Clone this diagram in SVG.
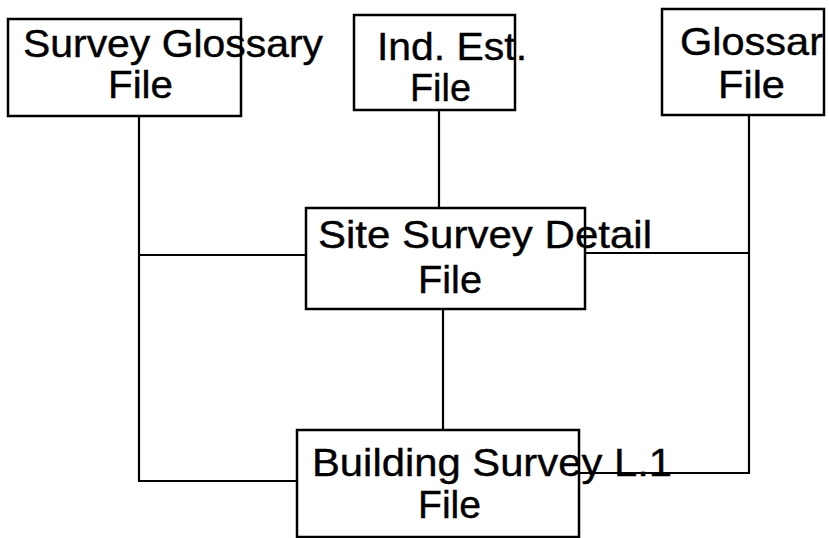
<svg xmlns="http://www.w3.org/2000/svg" width="829" height="538" viewBox="0 0 829 538">
<style>
.box{fill:none;stroke:#000;stroke-width:2.5}
.ln{fill:none;stroke:#000;stroke-width:2.2}
text{font-family:"Liberation Sans",Arial,sans-serif;font-size:39px;fill:#000;stroke:#000;stroke-width:0.4}
</style>
<rect width="829" height="538" fill="#fff"/>
<g id="connectors">
<polyline class="ln" points="139,116 139,481 297,481"/>
<line class="ln" x1="139" y1="255" x2="306" y2="255"/>
<line class="ln" x1="439" y1="110" x2="439" y2="208"/>
<line class="ln" x1="443" y1="309" x2="443" y2="430"/>
<polyline class="ln" points="749,115 749,473 579,473"/>
<line class="ln" x1="585" y1="253" x2="749" y2="253"/>
</g>
<g id="survey-glossary">
<rect class="box" x="8" y="19" width="233" height="97"/>
<text x="23" y="57" textLength="300" lengthAdjust="spacingAndGlyphs">Survey Glossary</text>
<text x="108" y="98" textLength="65" lengthAdjust="spacingAndGlyphs">File</text>
</g>
<g id="ind-est">
<rect class="box" x="354" y="15" width="161" height="95"/>
<text x="377" y="60" textLength="150" lengthAdjust="spacingAndGlyphs">Ind. Est.</text>
<text x="410" y="101" textLength="61" lengthAdjust="spacingAndGlyphs">File</text>
</g>
<g id="glossary">
<rect class="box" x="662" y="9" width="162" height="106"/>
<text x="680" y="55" textLength="143" lengthAdjust="spacingAndGlyphs">Glossar</text>
<text x="718" y="98" textLength="67" lengthAdjust="spacingAndGlyphs">File</text>
</g>
<g id="site-survey-detail">
<rect class="box" x="306" y="208" width="279" height="101"/>
<text x="318" y="248" textLength="334" lengthAdjust="spacingAndGlyphs">Site Survey Detail</text>
<text x="418" y="293" textLength="64" lengthAdjust="spacingAndGlyphs">File</text>
</g>
<g id="building-survey">
<rect class="box" x="297" y="430" width="282" height="107"/>
<text x="312" y="476" textLength="360" lengthAdjust="spacingAndGlyphs">Building Survey L.1</text>
<text x="418" y="518" textLength="63" lengthAdjust="spacingAndGlyphs">File</text>
</g>
</svg>
